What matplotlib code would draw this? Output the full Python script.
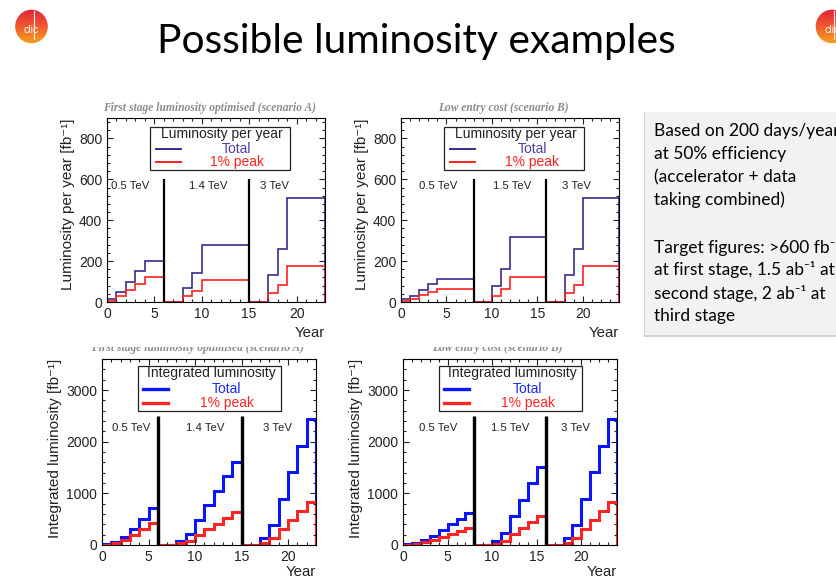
#!/usr/bin/env python3
"""Slide: possible CLIC luminosity examples (scenario A / B, per year and integrated)."""

import matplotlib

matplotlib.use("Agg")
import matplotlib.pyplot as plt  # noqa: E402
import numpy as np  # noqa: E402
from matplotlib.lines import Line2D  # noqa: E402
from matplotlib.patches import Ellipse, Rectangle  # noqa: E402
from matplotlib.ticker import AutoMinorLocator, MultipleLocator  # noqa: E402
from matplotlib.transforms import Bbox, TransformedBbox  # noqa: E402

W, H = 836, 581

# year bin edges
EDGES_A = list(range(0, 24))
EDGES_B = list(range(0, 25))

# luminosity per year [fb^-1], one value per year bin
A_TOTAL_YEAR = [15, 50, 100, 150, 200, 200, 0, 0, 70, 140, 280, 280, 280, 280, 280,
                0, 0, 130, 260, 510, 510, 510, 510]
A_PEAK_YEAR = [5, 30, 60, 90, 120, 120, 0, 0, 30, 55, 110, 110, 110, 110, 110,
               0, 0, 45, 85, 175, 175, 175, 175]
B_TOTAL_YEAR = [13, 30, 58, 87, 112, 112, 112, 112, 0, 0, 80, 160, 320, 320, 320, 320,
                0, 0, 130, 260, 510, 510, 510, 510]
B_PEAK_YEAR = [5, 16, 33, 48, 62, 62, 62, 62, 0, 0, 27, 63, 122, 122, 122, 122,
               0, 0, 45, 85, 175, 175, 175, 175]

# integrated luminosity [fb^-1]
A_TOTAL_INT = [10, 60, 160, 310, 510, 710, 0, 0, 70, 210, 490, 770, 1050, 1330, 1610,
               0, 0, 130, 390, 900, 1410, 1920, 2430]
A_PEAK_INT = [5, 35, 95, 185, 305, 430, 0, 0, 30, 85, 195, 305, 415, 525, 640,
              0, 0, 45, 130, 305, 480, 655, 830]
B_TOTAL_INT = [10, 40, 95, 180, 290, 400, 510, 615, 0, 0, 80, 240, 560, 880, 1200, 1515,
               0, 0, 130, 390, 900, 1410, 1920, 2430]
B_PEAK_INT = [5, 20, 50, 95, 155, 215, 275, 335, 0, 0, 25, 85, 205, 325, 445, 565,
              0, 0, 45, 130, 305, 480, 655, 830]

A_STAGE_ENDS = [6, 15]
B_STAGE_ENDS = [8, 16]
A_ENERGIES = ["0.5 TeV", "1.4 TeV", "3 TeV"]
B_ENERGIES = ["0.5 TeV", "1.5 TeV", "3 TeV"]

TITLE_A = "First stage luminosity optimised (scenario A)"
TITLE_B = "Low entry cost (scenario B)"

BOX_LINES = [
    "Based on 200 days/year",
    "at 50% efficiency",
    "(accelerator + data",
    "taking combined)",
    "",
    "Target figures: >600 fb⁻¹",
    "at first stage, 1.5 ab⁻¹ at",
    "second stage, 2 ab⁻¹ at",
    "third stage",
]

ROOT_FONT = ["Liberation Sans", "DejaVu Sans"]
SLIDE_FONT = ["Lato", "DejaVu Sans"]

plt.rcParams["font.family"] = ROOT_FONT


def fig_rect(x0, y0, x1, y1):
    """pixel box (top-left origin) -> figure fraction rect"""
    return [x0 / W, 1 - y1 / H, (x1 - x0) / W, (y1 - y0) / H]


def draw_panel(fig, px_box, edges, total, peak, stage_ends, energies, label_x,
               label_y, ymax, ymajor, ylabel, leg_title, c_total, c_peak,
               c_total_txt, lw, vline_top, vline_lw, legbox, leg_txt_x,
               xpad=4):
    ax = fig.add_axes(fig_rect(*px_box))
    ax.stairs(total, edges, color=c_total, lw=lw)
    ax.stairs(peak, edges, color=c_peak, lw=lw)
    for xs in stage_ends:
        ax.plot([xs, xs], [0, vline_top], color="black", lw=vline_lw,
                solid_capstyle="butt")
    for txt, xt in zip(energies, label_x):
        ax.text(xt, label_y, txt, ha="center", va="center", fontsize=8.2,
                color="#222222")
    ax.set_xlim(edges[0], edges[-1])
    ax.set_ylim(0, ymax)
    ax.xaxis.set_major_locator(MultipleLocator(5))
    ax.xaxis.set_minor_locator(AutoMinorLocator(5))
    ax.yaxis.set_major_locator(MultipleLocator(ymajor))
    ax.yaxis.set_minor_locator(AutoMinorLocator(5))
    ax.tick_params(which="both", direction="in", top=True, right=True,
                   labelsize=10, colors="#222222", width=0.8)
    ax.tick_params(which="major", length=4.5)
    ax.tick_params(which="minor", length=2.2)
    for s in ax.spines.values():
        s.set_linewidth(0.8)
    ax.set_ylabel(ylabel, loc="top", fontsize=11, color="#222222", labelpad=3)
    ax.set_xlabel("Year", loc="right", fontsize=10.8, color="#222222",
                  labelpad=xpad)

    # ROOT-like legend box
    x0, x1, y0, y1 = legbox
    ax.add_patch(Rectangle((x0, y0), x1 - x0, y1 - y0, transform=ax.transAxes,
                           facecolor="white", edgecolor="#222222", lw=0.9,
                           zorder=5))
    hgt = y1 - y0
    ax.text((x0 + x1) / 2 + 0.01, y1 - 0.16 * hgt, leg_title,
            transform=ax.transAxes, ha="center", va="center", fontsize=10,
            color="#222222", zorder=6)
    for frac, col, tcol, name in [(0.5, c_total, c_total_txt, "Total"),
                                  (0.19, c_peak, c_peak, "1% peak")]:
        yy = y0 + frac * hgt
        ax.add_line(Line2D([x0 + 0.025, x0 + 0.14], [yy, yy], color=col,
                           lw=lw + 0.2, transform=ax.transAxes, zorder=6))
        ax.text(leg_txt_x, yy, name, transform=ax.transAxes, ha="center",
                va="center", fontsize=10, color=tcol, zorder=6)
    return ax


fig = plt.figure(figsize=(W / 100, H / 100), dpi=100)

TOP_LEG = (0.198, 0.84, 0.716, 0.951)
BOT_LEG = (0.168, 0.835, 0.718, 0.964)

draw_panel(fig, (107, 118, 325, 302), EDGES_A, A_TOTAL_YEAR, A_PEAK_YEAR,
           A_STAGE_ENDS, A_ENERGIES, [2.4, 10.7, 17.7], 568, 900, 200,
           "Luminosity per year [fb⁻¹]", "Luminosity per year",
           "#3a2b8c", "#ff2020", "#4f3fa6", 1.2, 600, 1.6, TOP_LEG, 0.595)
draw_panel(fig, (401, 118, 619, 302), EDGES_B, B_TOTAL_YEAR, B_PEAK_YEAR,
           B_STAGE_ENDS, B_ENERGIES, [4.1, 12.2, 19.3], 568, 900, 200,
           "Luminosity per year [fb⁻¹]", "Luminosity per year",
           "#3a2b8c", "#ff2020", "#4f3fa6", 1.2, 600, 1.6, TOP_LEG, 0.603)
draw_panel(fig, (102, 359, 316, 545), EDGES_A, A_TOTAL_INT, A_PEAK_INT,
           A_STAGE_ENDS, A_ENERGIES, [3.1, 11.1, 18.9], 2258, 3600, 1000,
           "Integrated luminosity [fb⁻¹]", "Integrated luminosity",
           "#0a14ff", "#ff2424", "#1a2aff", 2.2, 2500, 2.4, BOT_LEG, 0.583,
           xpad=1)
draw_panel(fig, (403, 359, 617, 545), EDGES_B, B_TOTAL_INT, B_PEAK_INT,
           B_STAGE_ENDS, B_ENERGIES, [4.0, 12.0, 19.4], 2258, 3600, 1000,
           "Integrated luminosity [fb⁻¹]", "Integrated luminosity",
           "#0a14ff", "#ff2424", "#1a2aff", 2.2, 2500, 2.4, BOT_LEG, 0.583,
           xpad=1)

# small ROOT canvas titles
title_kw = dict(ha="center", va="center", fontsize=8.3, color="#8c8c8c",
                family=["Liberation Serif", "DejaVu Serif"], style="italic",
                weight="bold")
fig.text(210 / W, 1 - 108 / H, TITLE_A, **title_kw)
fig.text(503 / W, 1 - 108 / H, TITLE_B, **title_kw)
# bottom canvases are cropped just through their titles
clip = TransformedBbox(Bbox([[0, 0], [1, 1 - 347 / H]]), fig.transFigure)
for cx, txt in [(198, TITLE_A), (497, TITLE_B)]:
    t = fig.text(cx / W, 1 - 348 / H, txt, **title_kw)
    t.set_clip_box(clip)
    t.set_clip_on(True)

# slide title
fig.text(416 / W, 1 - 42 / H, "Possible luminosity examples", ha="center",
         va="center", fontsize=29.3, family=SLIDE_FONT, color="black")

# note box with shadow
fig.patches.append(Rectangle((644 / W, 1 - 337 / H), 200 / W, 225 / H,
                             transform=fig.transFigure, facecolor="#d2d2d2",
                             edgecolor="none"))
fig.patches.append(Rectangle((645 / W, 1 - 335 / H), 200 / W, 223 / H,
                             transform=fig.transFigure, facecolor="#f2f2f2",
                             edgecolor="none"))
line_y = [131, 154, 177, 200, 223, 247, 270, 293, 316]
for txt, ly in zip(BOX_LINES, line_y):
    fig.text(654 / W, 1 - ly / H, txt, ha="left", va="center", fontsize=12.5,
             family=SLIDE_FONT, color="black")

# CLIC logos
grad = np.linspace(0, 1, 64).reshape(-1, 1)
cmap = matplotlib.colors.LinearSegmentedColormap.from_list(
    "clic", ["#e4233e", "#ef5a2c", "#f7a21e"])
for cx in (31.5, 832):
    lax = fig.add_axes(fig_rect(cx - 17, 9, cx + 17, 44))
    lax.set_axis_off()
    im = lax.imshow(grad, cmap=cmap, aspect="auto", extent=(0, 1, 0, 1),
                    origin="upper")
    ell = Ellipse((0.5, 0.5), 0.96, 0.96, transform=lax.transAxes,
                  facecolor="none", edgecolor="none")
    lax.add_patch(ell)
    im.set_clip_path(ell)
    lax.text(0.5, 0.4, "clic", ha="center", va="center", color="white",
             fontsize=7.5, transform=lax.transAxes)
    lax.plot([0.57, 0.57], [0.15, 0.95], color="white", lw=0.8)
    lax.set_xlim(0, 1)
    lax.set_ylim(0, 1)

fig.savefig("out.png", dpi=100)
